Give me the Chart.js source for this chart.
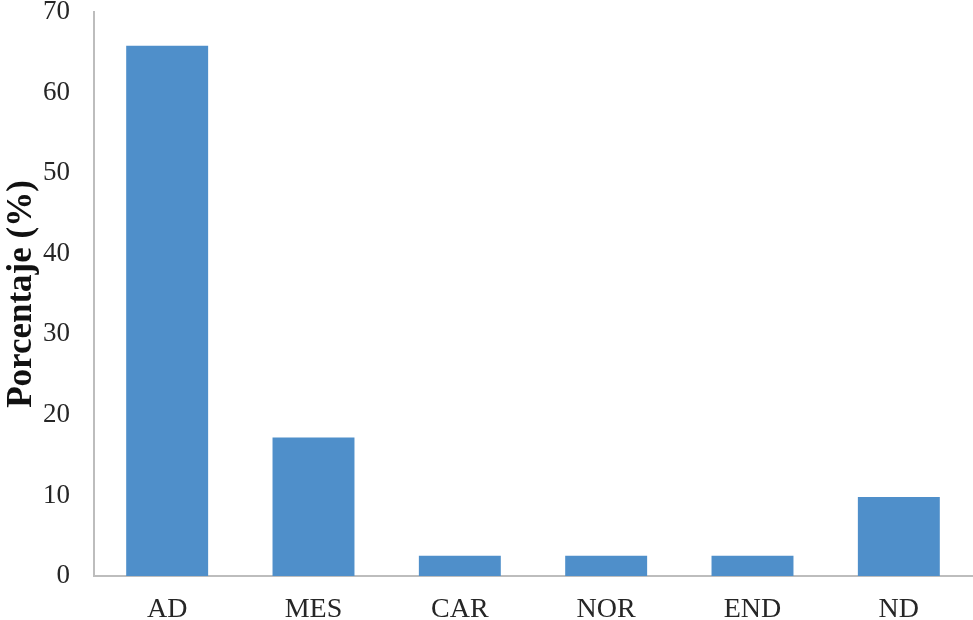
<!DOCTYPE html>
<html>
<head>
<meta charset="utf-8">
<script src="https://cdn.jsdelivr.net/npm/chart.js@4.4.1/dist/chart.umd.min.js"></script>
<style>
  body { margin: 0; background: #fff; }
  #wrap { width: 973px; height: 620px; }
</style>
</head>
<body>
<div id="wrap"><canvas id="canvas" width="973" height="620"></canvas></div>
<script>
var categories = ['AD', 'MES', 'CAR', 'NOR', 'END', 'ND'];
var porcentajes = [65.8, 17.2, 2.5, 2.5, 2.5, 9.8];
var yTicks = [0, 10, 20, 30, 40, 50, 60, 70];

var ctx = document.getElementById('canvas').getContext('2d');
var myChart = new Chart(ctx, {
    type: 'bar',
    data: {
        labels: categories,
        datasets: [{
            label: 'Porcentaje',
            data: porcentajes,
            backgroundColor: '#4f8fca',
            borderWidth: 0,
            barPercentage: 0.56,
            categoryPercentage: 1.0
        }]
    },
    options: {
        responsive: false,
        animation: false,
        layout: { padding: { top: 12, right: 1, left: 1, bottom: 0 } },
        plugins: {
            legend: { display: false },
            tooltip: { enabled: false }
        },
        scales: {
            x: {
                grid: { display: false, drawTicks: false },
                border: { display: true, color: '#bdbdbd', width: 2 },
                ticks: {
                    color: '#262626',
                    padding: 17,
                    font: { family: 'Liberation Serif', size: 28 }
                },
                afterFit: function(scale) {
                    scale.height = 44;
                    scale.paddingLeft = 0;
                    scale.paddingRight = 0;
                }
            },
            y: {
                min: 0,
                max: 70,
                afterBuildTicks: function(scale) {
                    scale.ticks = yTicks.map(function(v) { return { value: v }; });
                },
                grid: { display: false, drawTicks: false },
                border: { display: true, color: '#bdbdbd', width: 2 },
                ticks: {
                    color: '#262626',
                    padding: 24,
                    font: { family: 'Liberation Serif', size: 27 }
                },
                title: {
                    display: true,
                    text: 'Porcentaje (%)',
                    color: '#111',
                    padding: { top: 0, bottom: 0 },
                    font: { family: 'Liberation Serif', size: 35, weight: 'bold' }
                },
                afterFit: function(scale) {
                    scale.width = 93;
                    scale.paddingTop = 0;
                    scale.paddingBottom = 0;
                }
            }
        }
    }
});
</script>
</body>
</html>
